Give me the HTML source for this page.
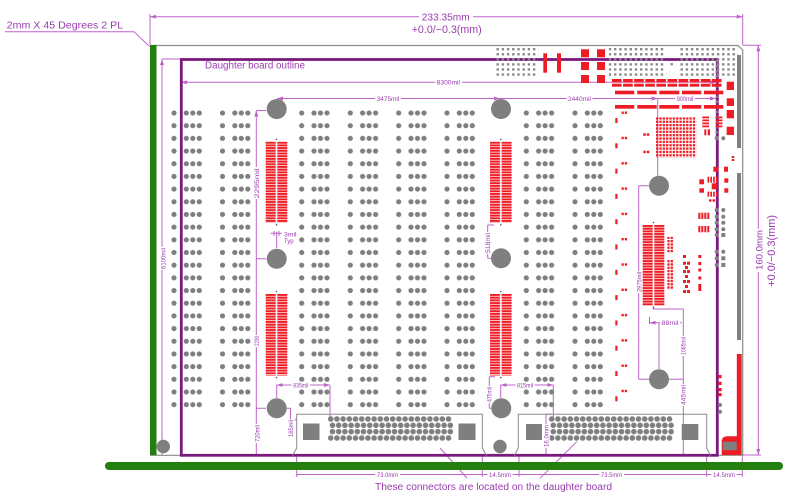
<!DOCTYPE html>
<html><head><meta charset="utf-8">
<style>
html,body{margin:0;padding:0;background:#fff}
svg{display:block}
text{font-family:"Liberation Sans",sans-serif;fill:#9b3bb0}
.s{font-size:6.5px}
.d{stroke:#be64c8;stroke-width:1;fill:none}
.r{fill:#ee1c25}
.g{fill:#7f7f7f}
</style></head><body>
<svg width="797" height="496" viewBox="0 0 797 496" xmlns="http://www.w3.org/2000/svg">
<defs>
<marker id="ar" viewBox="0 0 6 4" refX="6" refY="2" markerWidth="6" markerHeight="4" orient="auto-start-reverse" markerUnits="userSpaceOnUse"><path d="M0,0 L6,2 L0,4 Z" fill="#be64c8"/></marker>
<pattern id="grp" patternUnits="userSpaceOnUse" width="32" height="12.68">
<circle cx="3" cy="6.34" r="2.6" fill="#7f7f7f"/><circle cx="15.3" cy="6.34" r="2.6" fill="#7f7f7f"/><circle cx="21.8" cy="6.34" r="2.6" fill="#7f7f7f"/><circle cx="28.3" cy="6.34" r="2.6" fill="#7f7f7f"/>
</pattern>
<pattern id="pin" patternUnits="userSpaceOnUse" width="6.2" height="6.33"><circle cx="3.1" cy="3.165" r="2.8" fill="#7f7f7f"/></pattern>
<pattern id="cb" patternUnits="userSpaceOnUse" width="21.6" height="2.7"><rect width="21.6" height="2.7" fill="#fff"/><rect x="0" y="0" width="10" height="2" fill="#ee1c25"/><rect x="11.6" y="0" width="10" height="2" fill="#ee1c25"/></pattern>
<pattern id="bga" patternUnits="userSpaceOnUse" width="3.35" height="3.35"><rect width="2.3" height="2.3" fill="#ee1c25"/></pattern>
<pattern id="sd" patternUnits="userSpaceOnUse" width="5.2" height="5.07"><rect width="2.4" height="2.4" fill="#8a8a8a"/></pattern>
<pattern id="sg" patternUnits="userSpaceOnUse" width="3.3" height="3.3"><rect width="2.3" height="2.3" fill="#ee1c25"/></pattern>
</defs>

<!-- dimension lines -->
<line class="d" x1="150" y1="16.7" x2="742.7" y2="16.7" marker-start="url(#ar)" marker-end="url(#ar)"/>
<path class="d" d="M150,14V45 M742.7,14V45"/>
<path class="d" d="M743,45.3H761 M743,455H761"/>
<line class="d" x1="758.3" y1="45.3" x2="758.3" y2="455" marker-start="url(#ar)" marker-end="url(#ar)"/>
<path class="d" d="M5,31.7H134L149.5,46.5"/>
<line class="d" x1="181" y1="82.3" x2="716" y2="82.3" marker-start="url(#ar)" marker-end="url(#ar)"/>
<path class="d" d="M162,59H181"/>
<line class="d" x1="162" y1="59" x2="162" y2="455" marker-start="url(#ar)"/>
<line class="d" x1="277" y1="98.5" x2="500" y2="98.5" marker-start="url(#ar)" marker-end="url(#ar)"/>
<line class="d" x1="500" y1="98.5" x2="657.7" y2="98.5" marker-end="url(#ar)"/>
<line class="d" x1="657.7" y1="98.5" x2="716" y2="98.5" marker-end="url(#ar)"/>
<path class="d" d="M657.7,98.5V176"/>
<line class="d" x1="256.3" y1="110.5" x2="256.3" y2="455" marker-start="url(#ar)"/>
<path class="d" d="M256.3,110.5H266 M256.3,258.8H266 M256.3,408.3H266"/>
<path class="d" d="M276.7,231.7V248 M270.7,233.3H281.7 M274,231V236 M279,231V236"/>
<line class="d" x1="276.7" y1="385" x2="330" y2="385" marker-start="url(#ar)" marker-end="url(#ar)"/>
<path class="d" d="M276.7,385V398 M330,385V417"/>
<path class="d" d="M286.7,408.3H290.5V420H296.7"/>
<path class="d" d="M487.7,225V258.3 M487.7,225H494 M487.7,258.3H491"/>
<path class="d" d="M489.3,376.7V408.3 M489.3,376.7H495 M489.3,408.3H491.5"/>
<line class="d" x1="500.7" y1="385" x2="553.3" y2="385" marker-start="url(#ar)" marker-end="url(#ar)"/>
<path class="d" d="M500.7,385V398 M553.3,385V417"/>
<path class="d" d="M546,414.3V455 M546,414.3H551.5"/>
<line class="d" x1="296.7" y1="474.5" x2="742.3" y2="474.5"/>
<path class="d" d="M296.7,455V477 M482.3,455V477 M519,455V477 M706.7,455V477 M742.3,455V477"/>
<path class="d" d="M440,448L467,478 M576.7,441.7L540,478.3"/>
<path class="d" d="M638.7,185.7V379.3 M638.7,185.7H649 M638.7,379.3H649 M669,379.3H683.3"/>
<path class="d" d="M683.3,309V455 M653.3,309H683.3 M653.3,306V309"/>
<line class="d" x1="649.5" y1="322.7" x2="681.7" y2="322.7" marker-start="url(#ar)"/>
<path class="d" d="M659,322.7V369 M649.5,317V324"/>

<!-- board outline -->
<path d="M150,45.5H738L742.7,50.2V455.3H150" fill="none" stroke="#8c8c8c" stroke-width="1.2"/>
<rect x="150" y="45" width="6.5" height="410" fill="#23800f"/>
<rect x="105" y="462" width="678" height="8" rx="4" fill="#23800f"/>

<!-- daughter board outline -->
<rect x="181.3" y="59.5" width="536" height="395.8" fill="none" stroke="#7b1a7e" stroke-width="2.8"/>

<!-- dot grids -->
<g transform="translate(171,106.66)"><rect width="32" height="304.32" fill="url(#grp)"/></g>
<g transform="translate(219.5,106.66)"><rect width="32" height="304.32" fill="url(#grp)"/></g>
<g transform="translate(298.7,106.66)"><rect width="32" height="304.32" fill="url(#grp)"/></g>
<g transform="translate(347.3,106.66)"><rect width="32" height="304.32" fill="url(#grp)"/></g>
<g transform="translate(395.7,106.66)"><rect width="32" height="304.32" fill="url(#grp)"/></g>
<g transform="translate(444,106.66)"><rect width="32" height="304.32" fill="url(#grp)"/></g>
<g transform="translate(523.3,106.66)"><rect width="32" height="304.32" fill="url(#grp)"/></g>
<g transform="translate(572,106.66)"><rect width="32" height="304.32" fill="url(#grp)"/></g>

<!-- top small grey arrays -->
<g transform="translate(496.5,48)"><rect width="41.6" height="30.4" fill="url(#sd)"/></g>
<g transform="translate(608.8,48)"><rect width="57.2" height="30.4" fill="url(#sd)"/></g>
<g transform="translate(680.5,48)"><rect width="57.2" height="30.4" fill="url(#sd)"/></g>
<rect x="670.5" y="63" width="2.4" height="2.4" fill="#8a8a8a"/>
<g transform="translate(715.5,60)"><rect width="2.4" height="78" fill="url(#sd)"/></g>

<!-- holes -->
<g class="g">
<circle cx="276.7" cy="109" r="10"/><circle cx="276.7" cy="258.8" r="10"/><circle cx="276.7" cy="408.3" r="10"/>
<circle cx="501" cy="109" r="10"/><circle cx="501" cy="258.3" r="10"/><circle cx="501.3" cy="408.3" r="10"/>
<circle cx="659" cy="185.7" r="10"/><circle cx="659" cy="379.3" r="10"/>
<circle cx="163.3" cy="446.5" r="6.7"/><circle cx="500" cy="446.5" r="6.7"/>
</g>

<!-- combs -->
<g transform="translate(265.7,141.7)"><rect width="21.6" height="81" fill="url(#cb)"/></g>
<g transform="translate(265.7,294)"><rect width="21.6" height="81.5" fill="url(#cb)"/></g>
<g transform="translate(490,141.7)"><rect width="21.6" height="81" fill="url(#cb)"/></g>
<g transform="translate(490,294)"><rect width="21.6" height="81.5" fill="url(#cb)"/></g>
<g transform="translate(642.7,225)"><rect width="21.6" height="81" fill="url(#cb)"/></g>
<g fill="#555"><circle cx="276.5" cy="139.3" r="0.8"/><circle cx="276.5" cy="224.8" r="0.8"/><circle cx="276.5" cy="291.5" r="0.8"/><circle cx="276.5" cy="377.5" r="0.8"/><circle cx="500.8" cy="139.3" r="0.8"/><circle cx="500.8" cy="224.8" r="0.8"/><circle cx="500.8" cy="291.5" r="0.8"/><circle cx="500.8" cy="377.5" r="0.8"/><circle cx="653.5" cy="222.5" r="0.8"/><circle cx="653.5" cy="308" r="0.8"/></g>

<!-- red top parts -->
<g class="r">
<rect x="543.3" y="53.3" width="3.7" height="19.4"/><rect x="557" y="53.3" width="4" height="19.4"/>
<rect x="581" y="49.3" width="8" height="8"/><rect x="597" y="49.3" width="8" height="8"/>
<rect x="581" y="62" width="8" height="8"/><rect x="597" y="62" width="8" height="8"/>
<rect x="581" y="75" width="8" height="8"/><rect x="597" y="75" width="8" height="8"/>
<rect x="612" y="79" width="9.6" height="3.3"/><rect x="623.1" y="79" width="9.6" height="3.3"/><rect x="634.2" y="79" width="9.6" height="3.3"/><rect x="645.3" y="79" width="9.6" height="3.3"/><rect x="656.4" y="79" width="9.6" height="3.3"/><rect x="667.5" y="79" width="9.6" height="3.3"/><rect x="678.6" y="79" width="9.6" height="3.3"/><rect x="689.7" y="79" width="9.6" height="3.3"/><rect x="700.8" y="79" width="9.6" height="3.3"/><rect x="711.9" y="79" width="9.6" height="3.3"/>
<rect x="612" y="83.7" width="9.6" height="3"/><rect x="623.1" y="83.7" width="9.6" height="3"/><rect x="634.2" y="83.7" width="9.6" height="3"/><rect x="645.3" y="83.7" width="9.6" height="3"/><rect x="656.4" y="83.7" width="9.6" height="3"/><rect x="667.5" y="83.7" width="9.6" height="3"/><rect x="678.6" y="83.7" width="9.6" height="3"/><rect x="689.7" y="83.7" width="9.6" height="3"/><rect x="700.8" y="83.7" width="9.6" height="3"/><rect x="711.9" y="83.7" width="9.6" height="3"/>
<rect x="615" y="90.7" width="19.3" height="3.6"/><rect x="637.3" y="90.7" width="19.4" height="3.6"/><rect x="659.3" y="90.7" width="20" height="3.6"/><rect x="682" y="90.7" width="19.3" height="3.6"/><rect x="704" y="90.7" width="19.3" height="3.6"/>
<rect x="615" y="105" width="19.3" height="3.7"/><rect x="637.3" y="105" width="19.4" height="3.7"/><rect x="659.3" y="105" width="20" height="3.7"/><rect x="682" y="105" width="19.3" height="3.7"/><rect x="704" y="105" width="19.3" height="3.7"/>
<rect x="726.7" y="81.7" width="7.3" height="8.3"/><rect x="726.7" y="98.3" width="7.3" height="7.7"/><rect x="726.7" y="110" width="7.3" height="8.3"/><rect x="726.7" y="126.7" width="7.3" height="8.3"/>
<rect x="702.3" y="116.5" width="6.7" height="1.8"/><rect x="702.3" y="119.5" width="6.7" height="1.8"/><rect x="702.3" y="122.5" width="6.7" height="1.8"/><rect x="702.3" y="125.5" width="6.7" height="1.8"/>
<rect x="715.7" y="116.5" width="6.7" height="1.8"/><rect x="715.7" y="119.5" width="6.7" height="1.8"/><rect x="715.7" y="122.5" width="6.7" height="1.8"/><rect x="715.7" y="125.5" width="6.7" height="1.8"/>
<rect x="704.3" y="129.3" width="2" height="6"/><rect x="707.7" y="129.3" width="2.3" height="6"/>
<rect x="643.3" y="133.3" width="2.5" height="2.5"/><rect x="646.8" y="133.3" width="2.5" height="2.5"/>
<rect x="643.3" y="150.7" width="2.5" height="2.5"/><rect x="646.8" y="150.7" width="2.5" height="2.5"/>
<rect x="731.7" y="156" width="2.5" height="2"/><rect x="731.7" y="159" width="2.5" height="2"/>
<!-- cluster -->
<rect x="713.3" y="166.7" width="5" height="5"/><rect x="724" y="166.7" width="4" height="5"/>
<rect x="699.3" y="179.3" width="4.7" height="5"/><rect x="699.3" y="188.3" width="4.7" height="4.4"/>
<rect x="711.7" y="183.3" width="5.6" height="6"/>
<rect x="707.5" y="176.7" width="1.7" height="6"/><rect x="710.3" y="176.7" width="1.7" height="6"/><rect x="713.1" y="176.7" width="1.7" height="6"/><rect x="716" y="176.7" width="1.7" height="6"/>
<rect x="707.5" y="191.7" width="1.7" height="5"/><rect x="710.3" y="191.7" width="1.7" height="5"/><rect x="713.1" y="191.7" width="1.7" height="5"/><rect x="716" y="191.7" width="1.7" height="5"/>
<rect x="724.3" y="178.3" width="4" height="4.4"/><rect x="724.3" y="188.3" width="4" height="4.4"/>
<rect x="709" y="199.3" width="2.5" height="2.4"/><rect x="712.5" y="199.3" width="2.5" height="2.4"/>
<rect x="698.3" y="212.7" width="2" height="6.3"/><rect x="701.3" y="212.7" width="2" height="6.3"/><rect x="704.3" y="212.7" width="2" height="6.3"/><rect x="707.3" y="212.7" width="2" height="6.3"/>
<rect x="698.3" y="226" width="2" height="6.3"/><rect x="701.3" y="226" width="2" height="6.3"/><rect x="704.3" y="226" width="2" height="6.3"/><rect x="707.3" y="226" width="2" height="6.3"/>
<!-- lower right small -->
<rect x="683" y="255" width="3" height="3"/><rect x="683" y="261.7" width="3" height="3"/><rect x="687" y="261.7" width="3" height="3"/><rect x="685" y="266" width="3" height="3"/><rect x="683" y="270" width="3" height="3"/><rect x="687" y="270" width="3" height="3"/><rect x="685" y="275" width="3" height="3"/><rect x="683" y="280" width="3" height="3"/><rect x="687" y="280" width="3" height="3"/><rect x="685" y="285" width="3" height="3"/><rect x="683" y="290" width="3" height="3"/><rect x="687" y="290" width="3" height="3"/>
<rect x="698.3" y="255" width="3" height="3"/><rect x="698.3" y="262" width="3" height="3"/><rect x="698.3" y="268.5" width="3" height="3"/><rect x="698.3" y="276.5" width="3" height="3"/><rect x="698.3" y="284" width="3" height="7"/>
<rect x="718.3" y="375" width="3.3" height="3.3"/><rect x="718.3" y="381.7" width="3.3" height="3.3"/><rect x="718.3" y="388" width="3.3" height="3.3"/><rect x="718.3" y="393" width="3.3" height="3.3"/>
</g>
<g transform="translate(656,117.3)"><rect width="40.2" height="40.4" fill="url(#bga)"/></g>
<g transform="translate(667.3,236.7)"><rect width="6.6" height="16" fill="url(#sg)"/></g>
<g transform="translate(667.3,260)"><rect width="6.6" height="29.7" fill="url(#sg)"/></g>

<!-- left column small red markers -->
<g class="r">
<rect x="621.5" y="111.5" width="2.3" height="2.4"/><rect x="624.8" y="111.5" width="2.3" height="2.4"/><rect x="615.3" y="118" width="2.2" height="5"/>
<rect x="621.5" y="136.8" width="2.3" height="2.4"/><rect x="624.8" y="136.8" width="2.3" height="2.4"/><rect x="615.3" y="143.3" width="2.2" height="5"/>
<rect x="621.5" y="162.1" width="2.3" height="2.4"/><rect x="624.8" y="162.1" width="2.3" height="2.4"/><rect x="615.3" y="168.6" width="2.2" height="5"/>
<rect x="621.5" y="187.4" width="2.3" height="2.4"/><rect x="624.8" y="187.4" width="2.3" height="2.4"/><rect x="615.3" y="193.9" width="2.2" height="5"/>
<rect x="621.5" y="212.7" width="2.3" height="2.4"/><rect x="624.8" y="212.7" width="2.3" height="2.4"/><rect x="615.3" y="219.2" width="2.2" height="5"/>
<rect x="621.5" y="238" width="2.3" height="2.4"/><rect x="624.8" y="238" width="2.3" height="2.4"/><rect x="615.3" y="244.5" width="2.2" height="5"/>
<rect x="621.5" y="263.3" width="2.3" height="2.4"/><rect x="624.8" y="263.3" width="2.3" height="2.4"/><rect x="615.3" y="269.8" width="2.2" height="5"/>
<rect x="621.5" y="288.6" width="2.3" height="2.4"/><rect x="624.8" y="288.6" width="2.3" height="2.4"/><rect x="615.3" y="295.1" width="2.2" height="5"/>
<rect x="621.5" y="313.9" width="2.3" height="2.4"/><rect x="624.8" y="313.9" width="2.3" height="2.4"/><rect x="615.3" y="320.4" width="2.2" height="5"/>
<rect x="621.5" y="339.2" width="2.3" height="2.4"/><rect x="624.8" y="339.2" width="2.3" height="2.4"/><rect x="615.3" y="345.7" width="2.2" height="5"/>
<rect x="621.5" y="364.5" width="2.3" height="2.4"/><rect x="624.8" y="364.5" width="2.3" height="2.4"/><rect x="615.3" y="371" width="2.2" height="5"/>
<rect x="621.5" y="389.8" width="2.3" height="2.4"/><rect x="624.8" y="389.8" width="2.3" height="2.4"/><rect x="615.3" y="396.3" width="2.2" height="5"/>
</g>

<!-- grey dots near right purple edge -->
<g class="g">
<circle cx="716.7" cy="138.3" r="2"/><circle cx="723.3" cy="138.3" r="2"/>
<circle cx="716.7" cy="210" r="2"/><circle cx="723.3" cy="210" r="2"/>
<circle cx="716.7" cy="216.7" r="2"/><circle cx="723.3" cy="216.7" r="2"/>
<circle cx="716.7" cy="222.7" r="2"/><circle cx="723.3" cy="222.7" r="2"/>
<circle cx="716.7" cy="229.3" r="2"/><circle cx="723.3" cy="229.3" r="2"/>
<circle cx="716.7" cy="235" r="2"/><rect x="721.3" y="233" width="4" height="4"/>
<circle cx="716.7" cy="251.7" r="2"/><circle cx="723.3" cy="251.7" r="2"/>
<circle cx="716.7" cy="258.3" r="2"/><rect x="721.3" y="256.3" width="4" height="4"/>
<circle cx="716.7" cy="265" r="2"/><rect x="721.3" y="263" width="4" height="4"/>
<circle cx="720" cy="405" r="2"/><circle cx="720" cy="411.7" r="2"/>
</g>

<!-- right edge bars -->
<rect x="737" y="55" width="4" height="93" fill="#7f7f7f"/>
<rect x="737" y="173" width="4" height="167" fill="#7f7f7f"/>
<rect x="736.8" y="354" width="4.9" height="101" fill="#ee1c25"/>
<path d="M721.7,455V442Q721.7,436.3 727.5,436.3H737V455Z" fill="#ee1c25"/>
<rect x="722.7" y="441.7" width="14" height="8.5" fill="#7f7f7f"/>

<!-- connectors -->
<path d="M292.5,455.5L296.7,448V414.3H482.3V448L486.5,455.5" fill="none" stroke="#8c8c8c" stroke-width="1"/>
<path d="M514.5,455.5L518.3,448V414.3H706.7V448L710.5,455.5" fill="none" stroke="#8c8c8c" stroke-width="1"/>
<rect x="303" y="423.5" width="16.5" height="16.5" fill="#7f7f7f"/>
<rect x="458.5" y="423.5" width="17" height="16.5" fill="#7f7f7f"/>
<rect x="526" y="424" width="16" height="16" fill="#7f7f7f"/>
<rect x="681.7" y="424" width="16.6" height="16" fill="#7f7f7f"/>
<g transform="translate(327.6,415.835)"><rect width="124" height="6.33" fill="url(#pin)"/></g>
<g transform="translate(329.4,422.135)"><rect width="124" height="12.66" fill="url(#pin)"/></g>
<g transform="translate(327.6,434.835)"><rect width="124" height="6.33" fill="url(#pin)"/></g>
<g transform="translate(548.6,415.835)"><rect width="124" height="6.33" fill="url(#pin)"/></g>
<g transform="translate(550.2,422.135)"><rect width="124" height="12.66" fill="url(#pin)"/></g>
<g transform="translate(548.6,434.835)"><rect width="124" height="6.33" fill="url(#pin)"/></g>

<!-- text backgrounds -->
<g fill="#fff">
<rect x="419" y="12" width="54" height="10"/>
<rect x="435" y="79" width="27" height="6.5"/>
<rect x="375" y="95.3" width="26" height="6.5"/>
<rect x="566.5" y="95.3" width="26" height="6.5"/>
<rect x="675" y="95.3" width="20" height="6.5"/>
<rect x="291.5" y="381.8" width="18.5" height="6.5"/>
<rect x="515.5" y="381.8" width="19" height="6.5"/>
<rect x="660" y="319.5" width="20" height="6.5"/>
<rect x="375" y="471.3" width="25" height="6.5"/>
<rect x="487.5" y="471.3" width="25" height="6.5"/>
<rect x="599" y="471.3" width="25" height="6.5"/>
<rect x="711.5" y="471.3" width="25" height="6.5"/>
<rect x="754" y="229" width="10" height="43"/>
<rect x="159.5" y="247" width="7" height="23"/>
<rect x="253.3" y="167" width="7" height="32"/>
<rect x="253.3" y="335" width="7" height="12"/>
<rect x="253.5" y="424" width="7" height="19"/>
<rect x="287.3" y="419.5" width="7" height="18.5"/>
<rect x="484.5" y="232" width="7" height="22"/>
<rect x="486" y="386" width="7" height="17"/>
<rect x="542.8" y="424" width="7" height="24"/>
<rect x="635.5" y="271" width="7" height="22"/>
<rect x="680" y="336" width="7" height="20"/>
<rect x="680" y="384" width="7" height="22"/>
</g>

<!-- texts -->
<text x="421.7" y="20.5" font-size="10.5" textLength="48" lengthAdjust="spacingAndGlyphs">233.35mm</text>
<text x="411.7" y="33" font-size="11" textLength="70" lengthAdjust="spacingAndGlyphs">+0.0/−0.3(mm)</text>
<text x="6.7" y="28.7" font-size="10" textLength="116.5" lengthAdjust="spacingAndGlyphs">2mm X 45 Degrees 2 PL</text>
<text x="205" y="68.3" font-size="10" textLength="100" lengthAdjust="spacingAndGlyphs">Daughter board outline</text>
<text x="375" y="490" font-size="10" textLength="237" lengthAdjust="spacingAndGlyphs">These connectors are located on the daughter board</text>
<text transform="translate(762.7,270) rotate(-90)" font-size="9.5" textLength="40" lengthAdjust="spacingAndGlyphs">160.0mm</text>
<text transform="translate(775,286.7) rotate(-90)" font-size="11" textLength="71.7" lengthAdjust="spacingAndGlyphs">+0.0/−0.3(mm)</text>

<g class="s">
<text x="436.7" y="84.5" textLength="23.3" lengthAdjust="spacingAndGlyphs">8300mil</text>
<text x="376.7" y="100.8" textLength="22.6" lengthAdjust="spacingAndGlyphs">3475mil</text>
<text x="568" y="100.8" textLength="23" lengthAdjust="spacingAndGlyphs">2440mil</text>
<text x="676.7" y="100.8" textLength="16.6" lengthAdjust="spacingAndGlyphs">900mil</text>
<text x="284" y="236.5" textLength="12.5" lengthAdjust="spacingAndGlyphs">3mil</text>
<text x="284" y="243.2" textLength="9.5" lengthAdjust="spacingAndGlyphs">Typ</text>
<text x="293.3" y="387.3" textLength="15" lengthAdjust="spacingAndGlyphs">835mil</text>
<text x="517" y="387.3" textLength="16" lengthAdjust="spacingAndGlyphs">815mil</text>
<text x="661.7" y="325" textLength="16.6" lengthAdjust="spacingAndGlyphs">88mil</text>
<text x="377" y="476.8" textLength="21" lengthAdjust="spacingAndGlyphs">73.0mm</text>
<text x="489" y="476.8" textLength="22" lengthAdjust="spacingAndGlyphs">14.5mm</text>
<text x="601" y="476.8" textLength="21" lengthAdjust="spacingAndGlyphs">73.5mm</text>
<text x="713" y="476.8" textLength="22" lengthAdjust="spacingAndGlyphs">14.5mm</text>
<text transform="translate(165.6,269) rotate(-90)" textLength="21" lengthAdjust="spacingAndGlyphs">6100mil</text>
<text transform="translate(259,198.3) rotate(-90)" textLength="30" lengthAdjust="spacingAndGlyphs">2295mil</text>
<text transform="translate(259,346) rotate(-90)" textLength="10" lengthAdjust="spacingAndGlyphs">2290</text>
<text transform="translate(259.3,442) rotate(-90)" textLength="17" lengthAdjust="spacingAndGlyphs">720mil</text>
<text transform="translate(292.8,437) rotate(-90)" textLength="17" lengthAdjust="spacingAndGlyphs">165mil</text>
<text transform="translate(490,253) rotate(-90)" textLength="20" lengthAdjust="spacingAndGlyphs">518mil</text>
<text transform="translate(491.6,402) rotate(-90)" textLength="15" lengthAdjust="spacingAndGlyphs">475mil</text>
<text transform="translate(548.3,447) rotate(-90)" textLength="22" lengthAdjust="spacingAndGlyphs">16.0mm</text>
<text transform="translate(641.3,292) rotate(-90)" textLength="20" lengthAdjust="spacingAndGlyphs">2975mil</text>
<text transform="translate(685.6,355) rotate(-90)" textLength="18" lengthAdjust="spacingAndGlyphs">1085mil</text>
<text transform="translate(685.6,405) rotate(-90)" textLength="20" lengthAdjust="spacingAndGlyphs">445mil</text>
</g>
</svg>
</body></html>
